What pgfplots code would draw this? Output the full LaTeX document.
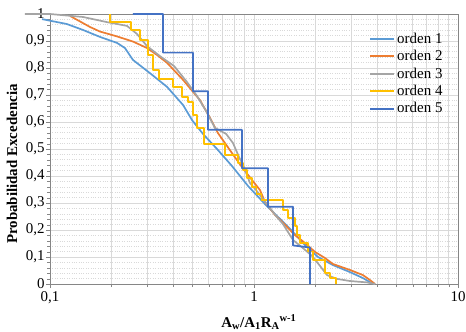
\documentclass[border=0pt]{standalone}
\usepackage{fontspec}
\setmainfont{Liberation Serif}
\usepackage{pgfplots}
\pgfplotsset{compat=1.18}
\definecolor{c1}{HTML}{5B9BD5}
\definecolor{c2}{HTML}{ED7D31}
\definecolor{c3}{HTML}{A5A5A5}
\definecolor{c4}{HTML}{FFC000}
\definecolor{c5}{HTML}{4472C4}
\definecolor{gridc}{HTML}{D9D9D9}
\definecolor{framec}{HTML}{868686}
\begin{document}
\begin{tikzpicture}
\begin{axis}[
  at={(0,0)}, anchor=south west,
  scale only axis, width=408bp, height=270bp,
  xmode=log, xmin=0.1, xmax=10, ymin=0, ymax=1,
  xtick={0.1,1,10}, xticklabels={{0,1},{1},{10}},
  minor xtick={0.2,0.3,0.4,0.5,0.6,0.7,0.8,0.9,2,3,4,5,6,7,8,9},
  ytick={0,0.1,0.2,0.3,0.4,0.5,0.6,0.7,0.8,0.9,1},
  yticklabels={0,{0,1},{0,2},{0,3},{0,4},{0,5},{0,6},{0,7},{0,8},{0,9},1},
  minor y tick num=4,
  grid=both,
  major grid style={color=gridc, line width=0.8bp},
  minor x grid style={color=gridc, line width=0.6bp},
  minor y grid style={color=gridc, dotted, line width=0.6bp},
  axis line style={framec, line width=0.8bp},
  tick style={framec}, tick align=outside,
  major tick length=4bp, minor tick length=3bp,
  xtick pos=bottom, ytick pos=left,
  tick label style={font=\fontsize{15}{17}\selectfont},
  yticklabel style={xshift=2bp},
  clip=false,
  every axis x label/.style={at={(axis description cs:0.512,-0.141)}, anchor=center},
  every axis y label/.style={at={(axis description cs:-0.093,0.444)}, anchor=center, rotate=90},
  xlabel={\fontsize{15}{17}\selectfont\bfseries A\textsubscript{w}/A\textsubscript{1}R\textsubscript{A}\textsuperscript{w-1}},
  ylabel={\fontsize{15}{17}\selectfont\bfseries Probabilidad Excedencia},
  legend style={at={(axis description cs:0.782,0.937)}, anchor=north west, draw=none, fill=none,
    font=\fontsize{15}{17}\selectfont, row sep=1.5bp, inner sep=0pt},
  legend cell align=left,
  legend image code/.code={\draw[#1, line width=2bp] (0bp,0bp) -- (24bp,0bp);},
  every axis plot/.append style={line width=1.7bp, line join=round},
]
% orden 1
\addplot[c1] coordinates {
(0.0914,0.981) (0.1208,0.963) (0.145,0.941) (0.176,0.915) (0.213,0.893) (0.233,0.874)
(0.255,0.830) (0.309,0.781) (0.375,0.730) (0.449,0.663) (0.497,0.607) (0.562,0.556)
(0.659,0.5) (0.780,0.437) (0.935,0.363) (1.132,0.296) (1.341,0.241) (1.553,0.193)
(1.778,0.144) (2.06,0.1) (2.44,0.07) (2.955,0.044) (3.42,0.022) (3.70,0.007) (3.92,0)
};
% orden 2
\addplot[c2] coordinates {
(0.1253,0.993) (0.157,0.952) (0.1758,0.935) (0.213,0.917) (0.255,0.898) (0.299,0.874)
(0.335,0.848) (0.375,0.819) (0.449,0.756) (0.5435,0.681) (0.609,0.615) (0.666,0.559)
(0.780,0.485) (0.873,0.433) (0.978,0.385) (1.070,0.348) (1.132,0.304) (1.267,0.256)
(1.419,0.219) (1.588,0.181) (1.778,0.152) (1.99,0.119) (2.23,0.096) (2.44,0.074)
(2.955,0.052) (3.42,0.033) (3.70,0.015) (3.92,0)
};
% orden 3
\addplot[c3] coordinates {
(0.0754,1.0) (0.1,1.0) (0.145,0.989) (0.190,0.970) (0.2385,0.956) (0.267,0.926)
(0.299,0.881) (0.346,0.844) (0.406,0.807) (0.4695,0.748) (0.526,0.696) (0.582,0.641)
(0.644,0.578) (0.730,0.556) (0.789,0.522) (0.845,0.470) (0.893,0.433) (0.956,0.374)
(1.023,0.348) (1.158,0.296) (1.282,0.252) (1.387,0.222) (1.553,0.163) (1.738,0.133)
(1.925,0.104) (2.107,0.067) (2.28,0.033) (2.55,0.019) (2.955,0.011) (3.58,0.006) (3.92,0)
};
% orden 4
\addplot[c4] coordinates {
(0.197,1.0) (0.197,0.971) (0.2495,0.971) (0.2495,0.941) (0.276,0.941) (0.276,0.904)
(0.302,0.904) (0.302,0.848) (0.320,0.848) (0.320,0.793) (0.342,0.793) (0.342,0.759)
(0.401,0.759) (0.401,0.730) (0.444,0.730) (0.444,0.693) (0.475,0.693) (0.475,0.674)
(0.502,0.674) (0.502,0.626) (0.526,0.626) (0.526,0.578) (0.569,0.578) (0.569,0.519)
(0.721,0.519) (0.721,0.478) (0.835,0.478) (0.835,0.448) (0.883,0.448) (0.883,0.422)
(0.924,0.422) (0.924,0.393) (0.978,0.393) (0.978,0.359) (1.03,0.359) (1.03,0.333)
(1.09,0.333) (1.09,0.311) (1.387,0.311) (1.387,0.274) (1.468,0.274) (1.468,0.244)
(1.59,0.244) (1.59,0.215) (1.625,0.215) (1.625,0.181) (1.68,0.181) (1.68,0.151)
(1.84,0.151) (1.84,0.12) (1.95,0.12) (1.95,0.089) (2.23,0.089) (2.23,0.041)
(2.36,0.041) (2.36,0.022) (2.52,0.022) (2.52,0)
};
% orden 5
\addplot[c5] coordinates {
(0.255,1) (0.358,1) (0.358,0.857) (0.502,0.857) (0.502,0.714) (0.595,0.714)
(0.595,0.571) (0.873,0.571) (0.873,0.429) (1.171,0.429) (1.171,0.286) (1.553,0.286)
(1.553,0.143) (1.882,0.135) (1.882,0)
};
\legend{orden 1,orden 2,orden 3,orden 4,orden 5}
\end{axis}
\pgfresetboundingbox
\path[use as bounding box] (-50bp,-48bp) rectangle (416bp,284bp);
\end{tikzpicture}
\end{document}
